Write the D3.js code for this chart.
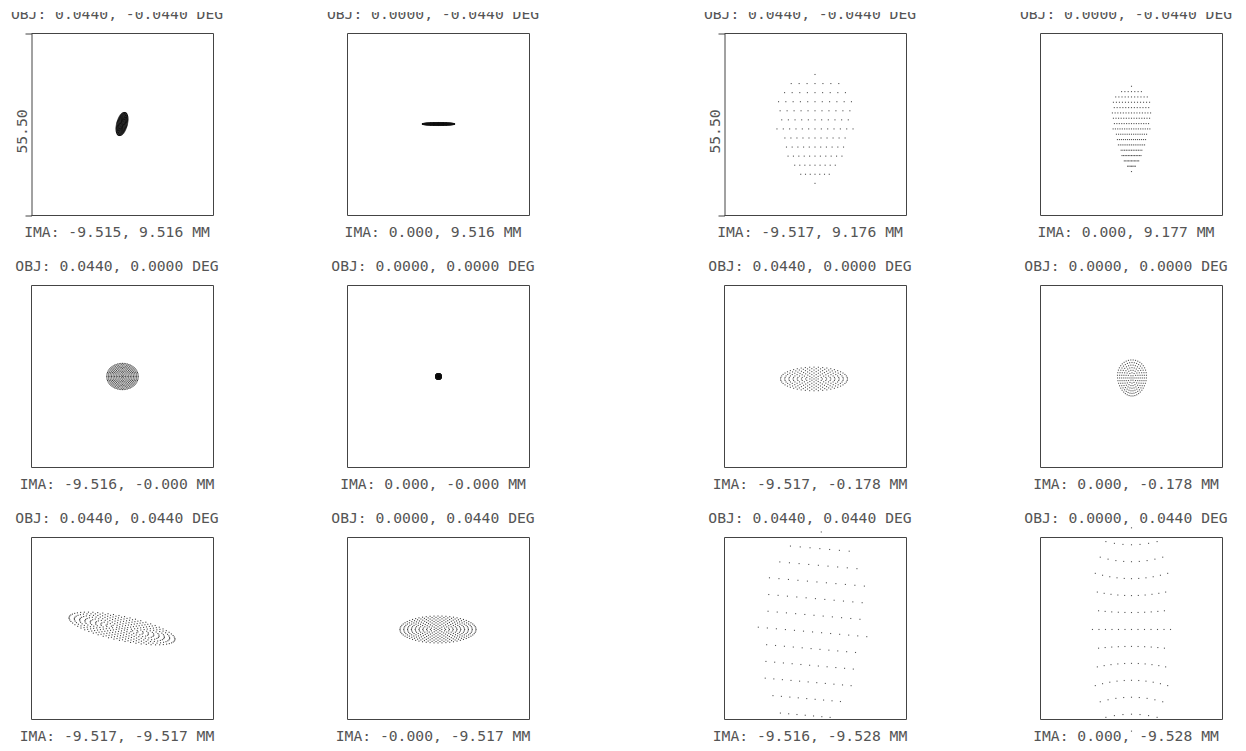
<!DOCTYPE html>
<html><head><meta charset="utf-8">
<script src="https://cdn.jsdelivr.net/npm/d3@7"></script>
<style>
body{margin:0;background:#fff}
svg{display:block}
text{font-family:"DejaVu Sans Mono",monospace;font-size:14.7px;fill:#555}
</style></head><body>
<svg id="chart" width="1246" height="751"></svg>
<script>
// ---------- data (panel order: row by row, four columns) ----------
const fieldLabels = [
  "OBJ: 0.0440, -0.0440 DEG","OBJ: 0.0000, -0.0440 DEG","OBJ: 0.0440, -0.0440 DEG","OBJ: 0.0000, -0.0440 DEG",
  "OBJ: 0.0440, 0.0000 DEG","OBJ: 0.0000, 0.0000 DEG","OBJ: 0.0440, 0.0000 DEG","OBJ: 0.0000, 0.0000 DEG",
  "OBJ: 0.0440, 0.0440 DEG","OBJ: 0.0000, 0.0440 DEG","OBJ: 0.0440, 0.0440 DEG","OBJ: 0.0000, 0.0440 DEG"
];
const imageLabels = [
  "IMA: -9.515, 9.516 MM","IMA: 0.000, 9.516 MM","IMA: -9.517, 9.176 MM","IMA: 0.000, 9.177 MM",
  "IMA: -9.516, -0.000 MM","IMA: 0.000, -0.000 MM","IMA: -9.517, -0.178 MM","IMA: 0.000, -0.178 MM",
  "IMA: -9.517, -9.517 MM","IMA: -0.000, -9.517 MM","IMA: -9.516, -9.528 MM","IMA: 0.000, -9.528 MM"
];
const scaleBarMicrons = 55.50;
const scaleBarLabel = "55.50";
// spot geometry, in microns (y positive = down)
const spotOffsetX  = [0, 0.15, 0, 0.15,   0.15, 0.15, -0.3, 0.3,   0, 0, -0.75, 0.15];
const spotOffsetY  = [0, 0, 1.5, 1.5,     0.15, 0.15, 0.9, 0.6,    0.15, 0.45, 1.2, 0.45];
const spotSemiX    = [1.6, 4.9, 11.6, 5.6, 4.8, 0.9, 10.2, 4.4,    16.5, 11.6, 16.6, 11.9];
const spotSemiY    = [3.6, 0.45, 16.6, 13, 4.0, 0.9, 3.6, 5.5,     3.7, 4.1, 30.6, 31];
const spotRotation = [15, 0, 0, 0,        0, 0, 0, 0,              12, 0, 5, 0];
const spotTaper    = [0, 0, 0.3, 0.5,     0, 0, 0, 0.1,            0, 0, 0.1, 0];
const spotBarrel   = [0, 0, 0, 0,         0, 0, 0, 0,              0, 0, 0, 0.45];
const spotBend     = [0, 0, 0, 0,         0, 0, 0, 0,              0, 0, 0, 0.15];
const pupilSampling= ["hex","hex","grid","grid", "hex","hex","hex","hex", "hex","hex","grid","grid"];
const pupilDensity = [10, 10, 13, 17,     10, 10, 8, 7,            10, 10, 13, 13];
const dotShade     = ["#111","#111","#555","#555", "#444","#111","#555","#555", "#444","#444","#555","#555"];

// ---------- layout ----------
const colLeft = [31, 347, 724, 1040];
const rowTop = [33, 285, 537];
const box = 182;
const svg = d3.select("#chart");
svg.append("defs").append("clipPath").attr("id","pageclip")
  .append("rect").attr("x",0).attr("y",12).attr("width",1246).attr("height",751);
const root = svg.append("g").attr("clip-path","url(#pageclip)");

function pupilPoints(kind,n){
  const pts=[];
  if(kind==="grid"){
    for(let j=0;j<n;j++) for(let i=0;i<n;i++){
      const px=-1+2*i/(n-1), py=-1+2*j/(n-1);
      if(px*px+py*py<=1.0001) pts.push([px,py]);
    }
  } else {
    pts.push([0,0]);
    for(let k=1;k<=n;k++){
      const rr=k/n, m=6*k;
      for(let a=0;a<m;a++){
        const t=2*Math.PI*a/m;
        pts.push([rr*Math.cos(t), rr*Math.sin(t)]);
      }
    }
  }
  return pts;
}

fieldLabels.forEach((lab,i)=>{
  const r=Math.floor(i/4), c=i%4;
  const left=colLeft[c], top=rowTop[r];
  const x=d3.scaleLinear().domain([-scaleBarMicrons/2, scaleBarMicrons/2]).range([left, left+box]);
  const y=d3.scaleLinear().domain([-scaleBarMicrons/2, scaleBarMicrons/2]).range([top, top+box]);
  const g=root.append("g");
  const withAxis = (r===0 && (c===0||c===2));
  const L=left+0.5, R=left+box+0.5, T=top+0.5, B=top+box+0.5;
  const frame = withAxis ? `M${L},${T}H${R}V${B}H${L}` : `M${L},${T}H${R}V${B}H${L}Z`;
  g.append("path").attr("d",frame).attr("fill","none").attr("stroke","#444").attr("stroke-width",1);
  if(withAxis){
    const ax=g.append("g").attr("transform",`translate(${L},0.5)`)
      .call(d3.axisLeft(y).tickValues([]).tickSizeOuter(6));
    ax.select(".domain").attr("stroke","#444");
    g.append("text").attr("transform",`translate(${left-4},${top+box/2+7.5}) rotate(-90)`)
      .attr("text-anchor","middle").text(scaleBarLabel);
  }
  g.append("text").attr("x",left+box/2-5).attr("y",top-14).attr("text-anchor","middle").text(lab);
  g.append("text").attr("x",left+box/2-5).attr("y",top+box+22).attr("text-anchor","middle").text(imageLabels[i]);

  const th=spotRotation[i]*Math.PI/180, ct=Math.cos(th), st=Math.sin(th);
  const pts=pupilPoints(pupilSampling[i],pupilDensity[i]).map(([px,py])=>{
    const X0=spotSemiX[i]*px*(1-spotTaper[i]*py+spotBarrel[i]*py*py);
    const Y0=spotSemiY[i]*py*(1+spotBend[i]*px*px);
    return [spotOffsetX[i]+X0*ct-Y0*st, spotOffsetY[i]+X0*st+Y0*ct];
  });
  g.selectAll("rect.dot").data(pts).join("rect").attr("class","dot")
    .attr("x",d=>x(d[0])-0.55).attr("y",d=>y(d[1])-0.55)
    .attr("width",1.1).attr("height",1.1).attr("fill",dotShade[i]);
});
</script>
</body></html>
